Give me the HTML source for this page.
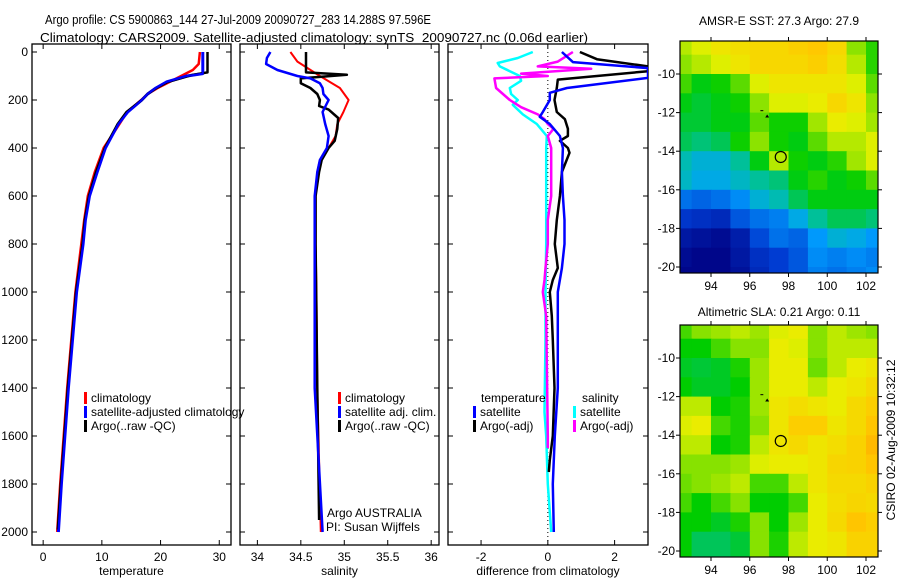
<!DOCTYPE html>
<html><head><meta charset="utf-8"><style>
html,body{margin:0;padding:0;background:#fff}
svg{display:block;font-family:"Liberation Sans",sans-serif}
</style></head><body>
<svg id="fig" width="900" height="580" viewBox="0 0 900 580" xmlns="http://www.w3.org/2000/svg">
<text x="45" y="24" font-size="13" textLength="386" lengthAdjust="spacingAndGlyphs">Argo profile: CS 5900863_144 27-Jul-2009 20090727_283 14.288S 97.596E</text>
<text x="40" y="42" font-size="13" textLength="548" lengthAdjust="spacingAndGlyphs">Climatology: CARS2009. Satellite-adjusted climatology: synTS_20090727.nc (0.06d earlier)</text>
<text x="779" y="25" font-size="12" text-anchor="middle">AMSR-E SST: 27.3 Argo: 27.9</text>
<text x="779" y="316" font-size="12" text-anchor="middle">Altimetric SLA: 0.21  Argo: 0.11</text>
<text x="0" y="0" font-size="12" text-anchor="middle" transform="translate(895,440) rotate(-90)">CSIRO 02-Aug-2009 10:32:12</text>
</svg>
<script>
// ---------- profile data ----------
const tempDepthClim=[0,50,75,100,125,150,175,200,250,300,400,500,600,700,800,1000,1200,1400,1600,1800,2000];
const tempClim=[26.7,26.5,25.5,23.5,21.5,19.5,17.8,16.7,14.3,13.0,10.3,8.8,7.6,7.0,6.5,5.5,4.8,4.1,3.5,2.9,2.4];
const tempDepthSat=[0,90,100,125,150,175,200,250,300,400,500,600,700,800,1000,1200,1400,1600,1800,2000];
const tempSat=[27.2,27.2,24.5,21,19.2,17.8,16.8,14.4,12.8,10.6,9.2,7.9,7.2,6.8,5.7,5.0,4.3,3.7,3.1,2.6];
const tempDepthArgo=[0,85,95,125,150,175,200,250,300,400,500,600,700,800,1000,1200,1400,1600,1800,1990];
const tempArgo=[28.0,28.0,25.5,21.2,19.3,17.8,16.8,14.2,12.7,10.5,9.0,7.8,7.1,6.7,5.6,4.9,4.2,3.6,3.0,2.5];

const salDepthClim=[0,40,100,150,200,250,300,350,400,450,500,600,800,1000,1400,2000];
const salClim=[34.38,34.46,34.72,34.95,35.05,34.99,34.92,34.9,34.82,34.72,34.69,34.67,34.67,34.68,34.69,34.73];
const salDepthSat=[0,25,50,75,100,110,130,150,175,200,250,300,350,400,450,500,600,800,1400,2000];
const salSat=[34.15,34.11,34.1,34.23,34.46,34.61,34.72,34.75,34.76,34.82,34.75,34.78,34.82,34.8,34.72,34.69,34.66,34.66,34.66,34.75];
const salDepthArgo=[0,85,95,110,130,150,175,200,225,240,275,320,370,400,450,500,600,800,1400,1950];
const salArgo=[34.56,34.56,35.03,34.5,34.5,34.61,34.69,34.72,34.71,34.82,34.93,34.92,34.89,34.82,34.74,34.71,34.67,34.67,34.69,34.71];

const diffDepthTS=[0,42,67,108,150,170,200,250,270,300,350,400,500,600,700,800,900,1000,1200,1400,1600,1800,2000];
const diffTempSat=[0.42,0.75,3,3,0.57,0.06,0.06,-0.15,-0.24,0.06,0.36,0.45,0.42,0.45,0.5,0.5,0.42,0.3,0.3,0.3,0.21,0.15,0.18];
const diffDepthTA=[0,30,60,80,100,115,150,200,250,280,320,350,370,400,420,500,600,700,800,900,950,1000,1100,1200,1400,1600,1700,1750];
const diffTempArgo=[0.96,1.47,3,3,1.47,0.3,0.27,0.2,0.27,0.51,0.6,0.6,0.36,0.6,0.65,0.42,0.36,0.27,0.21,0.3,0.15,0.06,0.12,0.15,0.2,0.15,0.06,0.03];
const diffDepthSS=[0,25,46,60,100,120,150,175,200,220,260,300,350,400,600,800,1000,1200,1500,1600,1800,2000];
const diffSalSat=[-0.45,-0.9,-1.5,-1.44,-0.84,-0.8,-1.14,-1.1,-0.9,-1.05,-0.75,-0.33,-0.03,-0.05,-0.05,-0.05,-0.07,-0.07,-0.1,-0.05,0,0.1];
const diffDepthSA=[0,40,60,70,90,100,110,150,200,230,260,280,300,320,350,400,600,700,800,900,950,1000,1050,1100,1600,1650];
const diffSalArgo=[0.75,0.3,-0.3,1.3,-0.8,0,-1.6,-1.55,-1.14,-0.8,-0.3,-0.1,0,0.17,0,0.1,0.1,0,0,-0.07,-0.1,-0.15,-0.1,-0.05,0,0];

// ---------- map data ----------
const mapLons=[92.5,93.5,94.5,95.5,96.5,97.5,98.5,99.5,100.5,101.5,102.5];
const mapLats=[-8.5,-9.5,-10.5,-11.5,-12.5,-13.5,-14.5,-15.5,-16.5,-17.5,-18.5,-19.5,-20.5];
const sstGrid=[
[27.4,27.6,27.8,27.9,28.0,28.0,28.1,28.2,28.0,27.2,26.8],
[27.2,27.4,27.6,27.8,28.0,28.0,28.0,28.1,27.9,27.4,26.8],
[26.9,26.6,26.7,27.0,27.6,27.8,27.8,27.8,27.8,27.6,27.0],
[26.6,26.5,26.6,26.7,27.2,27.6,27.6,27.7,28.0,27.8,27.2],
[26.5,26.5,26.6,26.6,27.0,26.7,26.7,27.3,27.7,27.6,27.3],
[26.4,26.3,26.4,26.7,27.2,26.7,26.6,27.0,27.4,27.4,27.6],
[26.1,25.9,25.9,26.2,26.6,27.4,26.7,26.6,26.8,27.3,27.6],
[26.0,25.8,25.8,26.0,26.2,26.3,26.6,26.8,26.6,26.7,27.0],
[25.3,25.2,25.3,25.5,25.9,26.1,26.4,26.6,26.6,26.6,26.6],
[24.8,24.7,24.6,25.1,25.3,25.4,25.8,26.2,26.4,26.4,26.3],
[24.3,24.2,24.1,24.4,25.0,25.3,25.2,25.6,25.9,25.8,25.6],
[24.1,24.0,24.0,24.3,24.7,24.9,25.1,25.5,25.4,25.5,25.4],
[24.0,24.0,24.0,24.2,24.6,24.9,25.1,25.4,25.3,25.4,25.5]];
const slaGrid=[
[0.05,0.1,0.12,0.15,0.12,0.18,0.2,0.1,0.15,0.12,0.1],
[0.0,0.0,0.05,0.1,0.1,0.2,0.18,0.1,0.15,0.15,0.15],
[-0.02,-0.03,-0.02,0.02,0.12,0.2,0.2,0.08,0.15,0.2,0.22],
[0.0,-0.02,-0.02,0.0,0.12,0.2,0.2,0.15,0.2,0.22,0.25],
[0.15,0.15,0.0,0.02,0.12,0.22,0.24,0.22,0.2,0.25,0.28],
[0.18,0.2,0.05,0.02,0.1,0.22,0.28,0.28,0.22,0.25,0.3],
[0.15,0.15,0.0,0.02,0.15,0.22,0.25,0.22,0.24,0.27,0.32],
[0.1,0.1,0.1,0.12,0.18,0.2,0.2,0.22,0.26,0.27,0.3],
[0.08,0.1,0.12,0.15,0.05,0.05,0.15,0.22,0.25,0.25,0.27],
[0.05,0.0,0.05,0.1,0.0,0.0,0.05,0.2,0.24,0.26,0.25],
[0.0,0.0,-0.02,0.02,0.1,0.0,0.12,0.2,0.25,0.3,0.28],
[0.0,-0.05,-0.05,-0.03,0.1,0.02,0.15,0.2,0.22,0.27,0.27],
[0.0,-0.05,-0.05,-0.03,0.1,0.02,0.15,0.2,0.22,0.27,0.27]];
const argoPos=[97.6,-14.3];

const depthTicks=[0,200,400,600,800,1000,1200,1400,1600,1800,2000];
const tempTicks=[0,10,20,30];
const salTicks=[34,34.5,35,35.5,36];
const diffTicks=[-2,0,2];
const lonTicks=[94,96,98,100,102];
const latTicks=[-10,-12,-14,-16,-18,-20];

const NS="http://www.w3.org/2000/svg";
const svg=document.getElementById('fig');
function mk(tag,attrs,parent){const e=document.createElementNS(NS,tag);for(const k in attrs)e.setAttribute(k,attrs[k]);(parent||svg).appendChild(e);return e;}

const PT=52, PB=545;
const yDepth=d=>52+d*0.24;
function panel(name,x0,x1,xmin,xmax,ticks,label,showY){
  const g=mk('g',{});
  
  
  const sx=v=>x0+(v-xmin)/(xmax-xmin)*(x1-x0);
  const r=mk('rect',{x:x0,y:PT-8,width:x1-x0,height:PB-PT+8,fill:'none',stroke:'#000','stroke-width':1.3},g);
  
  
  ticks.forEach(t=>{
    const x=sx(t);
    mk('line',{x1:x,x2:x,y1:PB,y2:PB-5,stroke:'#000'},g);
    mk('line',{x1:x,x2:x,y1:PT-8,y2:PT-3,stroke:'#000'},g);
    const tx=mk('text',{x:x,y:PB+16,'font-size':12,'text-anchor':'middle'},g);
    
    
    tx.textContent=String(t);
  });
  depthTicks.forEach(d=>{
    const y=yDepth(d);
    mk('line',{x1:x0,x2:x0+5,y1:y,y2:y,stroke:'#000'},g);
    mk('line',{x1:x1,x2:x1-5,y1:y,y2:y,stroke:'#000'},g);
    if(showY){
      const tx=mk('text',{x:x0-4,y:y+4,'font-size':12,'text-anchor':'end'},g);
      
      
      tx.textContent=String(d);
    }
  });
  const xl=mk('text',{x:(x0+x1)/2,y:575,'font-size':12,'text-anchor':'middle'},g);
  
  
  xl.textContent=label;
  return {g,sx,x0,x1};
}
function series(p,name,xs,ds,color,w){
  const cid='clip-'+name;
  const cp=mk('clipPath',{id:cid}); mk('rect',{x:p.x0,y:PT-8,width:p.x1-p.x0,height:PB-PT+8},cp);
  const pts=xs.map((v,i)=>p.sx(v).toFixed(1)+','+yDepth(ds[i]).toFixed(1)).join(' ');
  const pl=mk('polyline',{points:pts,fill:'none',stroke:color,'stroke-width':w,'clip-path':'url(#'+cid+')','stroke-linejoin':'round'},p.g);
  
  
}
function legend(p,x,y,color,text,name){
  const r=mk('rect',{x:x,y:y-10,width:3,height:12,fill:color},p.g);
  
  
  const t=mk('text',{x:x+7,y:y,'font-size':12},p.g);
  
  
  t.textContent=text;
}

// Temperature panel
const p1=panel('temperature-panel',32,231,-1.9,32.0,tempTicks,'temperature',true);
series(p1,'temp-climatology-line',tempClim,tempDepthClim,'#f00',2.5);
series(p1,'temp-satellite-line',tempSat,tempDepthSat,'#00f',3);
series(p1,'temp-argo-line',tempArgo,tempDepthArgo,'#000',2.5);
series(p1,'temp-satellite-line-top',tempSat,tempDepthSat,'#00f',2);
legend(p1,84,402,'#f00','climatology','legend-climatology');
legend(p1,84,416,'#00f','satellite-adjusted climatology','legend-satellite');
legend(p1,84,430,'#000','Argo(..raw -QC)','legend-argo');

// Salinity panel
const p2=panel('salinity-panel',240,439,33.8,36.09,salTicks,'salinity',false);
series(p2,'sal-climatology-line',salClim,salDepthClim,'#f00',2);
series(p2,'sal-argo-line',salArgo,salDepthArgo,'#000',2.5);
series(p2,'sal-satellite-line',salSat,salDepthSat,'#00f',2.5);
legend(p2,338,402,'#f00','climatology','legend-sal-climatology');
legend(p2,338,416,'#00f','satellite adj. clim.','legend-sal-satellite');
legend(p2,338,430,'#000','Argo(..raw -QC)','legend-sal-argo');
const a1=mk('text',{x:327,y:517,'font-size':12},p2.g);


a1.textContent='Argo AUSTRALIA';
const a2=mk('text',{x:326,y:531,'font-size':12},p2.g);


a2.textContent='PI: Susan Wijffels';

// Difference panel
const p3=panel('difference-panel',448,648,-2.99,3.0,diffTicks,'difference from climatology',false);
const zl=mk('line',{x1:p3.sx(0),x2:p3.sx(0),y1:PT,y2:PB,stroke:'#000','stroke-dasharray':'1,3'},p3.g);


series(p3,'diff-sal-satellite-line',diffSalSat,diffDepthSS,'#0ff',2.5);
series(p3,'diff-sal-argo-line',diffSalArgo,diffDepthSA,'#f0f',2.5);
series(p3,'diff-temp-argo-line',diffTempArgo,diffDepthTA,'#000',2.5);
series(p3,'diff-temp-satellite-line',diffTempSat,diffDepthTS,'#00f',2.5);
const lt=mk('text',{x:481,y:402,'font-size':12},p3.g);lt.textContent='temperature';


const ls=mk('text',{x:582,y:402,'font-size':12},p3.g);ls.textContent='salinity';


legend(p3,473,416,'#00f','satellite','legend-diff-temp-satellite');
legend(p3,473,430,'#000','Argo(-adj)','legend-diff-temp-argo');
legend(p3,573,416,'#0ff','satellite','legend-diff-sal-satellite');
legend(p3,573,430,'#f0f','Argo(-adj)','legend-diff-sal-argo');

// ---------- maps ----------
const stops=[[0,[0,0,130]],[0.2,[0,60,210]],[0.35,[0,160,255]],[0.45,[0,190,170]],[0.55,[0,205,0]],[0.65,[130,225,0]],[0.75,[232,240,0]],[0.86,[255,200,0]],[1,[255,120,0]]];
function cmap(t){t=Math.max(0,Math.min(1,t));for(let i=1;i<stops.length;i++){if(t<=stops[i][0]){const a=stops[i-1],b=stops[i];const f=(t-a[0])/(b[0]-a[0]);const c=a[1].map((v,k)=>Math.round(v+(b[1][k]-v)*f));return 'rgb('+c.join(',')+')';}}return 'rgb(255,120,0)';}
function drawMap(name,top,bottom,lat10y,lat20y,grid,norm){
  const x0=680,x1=878;
  const sx=lon=>711+(lon-94)*(866-711)/8;
  const sy=lat=>lat10y+(lat+10)*(lat20y-lat10y)/(-10);
  const g=mk('g',{});
  
  
  const cid='clip-'+name;
  const cp=mk('clipPath',{id:cid}); mk('rect',{x:x0,y:top,width:x1-x0,height:bottom-top},cp);
  const cg=mk('g',{'clip-path':'url(#'+cid+')'},g);
  grid.forEach((row,i)=>row.forEach((v,j)=>{
    const xa=sx(mapLons[j]-0.5),xb=sx(mapLons[j]+0.5),ya=sy(mapLats[i]+0.5),yb=sy(mapLats[i]-0.5);
    const c=mk('rect',{x:xa.toFixed(1),y:ya.toFixed(1),width:(xb-xa+0.6).toFixed(1),height:(yb-ya+0.6).toFixed(1),fill:cmap(norm(v))},cg);
    
    
  }));
  const fr=mk('rect',{x:x0,y:top,width:x1-x0,height:bottom-top,fill:'none',stroke:'#000','stroke-width':1.2},g);
  
  
  lonTicks.forEach(l=>{const x=sx(l);mk('line',{x1:x,x2:x,y1:bottom,y2:bottom+4,stroke:'#000'},g);mk('line',{x1:x,x2:x,y1:top,y2:top-4,stroke:'#000'},g);
    const t=mk('text',{x:x,y:bottom+17,'font-size':12,'text-anchor':'middle'},g);
    
    
    t.textContent=String(l);});
  latTicks.forEach(l=>{const y=sy(l);mk('line',{x1:x0,x2:x0-4,y1:y,y2:y,stroke:'#000'},g);mk('line',{x1:x1,x2:x1+4,y1:y,y2:y,stroke:'#000'},g);
    const t=mk('text',{x:x0-5,y:y+4,'font-size':12,'text-anchor':'end'},g);
    
    
    t.textContent=String(l);});
  const ci=mk('circle',{cx:sx(argoPos[0]),cy:sy(argoPos[1]),r:5.5,fill:'none',stroke:'#000','stroke-width':1.2},g);
  
  
  const tr=mk('path',{d:'M'+sx(96.9)+' '+(sy(-12.2)-2)+' l-2 3 l4 0 z',fill:'#000'},g);
  
  
  mk('line',{x1:sx(96.55),x2:sx(96.7),y1:sy(-11.9),y2:sy(-11.9),stroke:'#000'},g);
}
drawMap('sst-map',41,273,74,267,sstGrid,v=>(v-23.9)/5);
drawMap('sla-map',325,557,358,551,slaGrid,v=>0.55+v*1.05);
</script>
</body></html>
